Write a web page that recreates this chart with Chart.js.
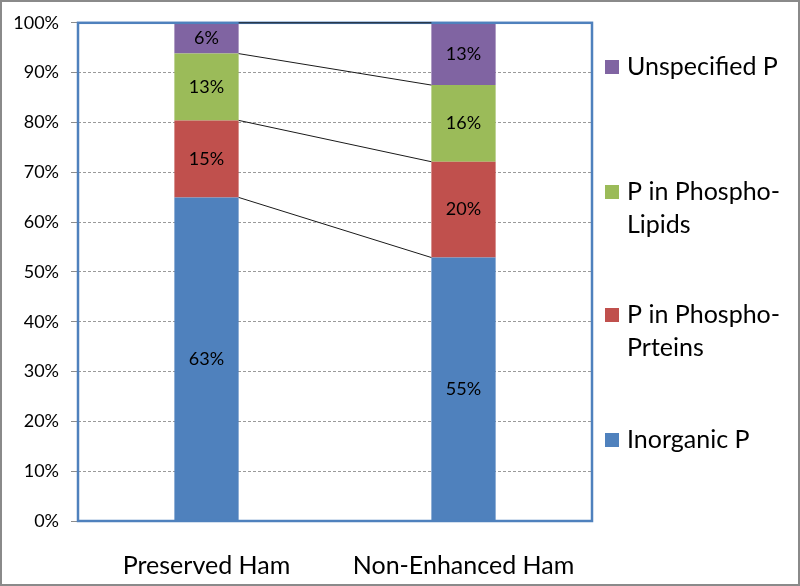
<!DOCTYPE html>
<html>
<head>
<meta charset="utf-8">
<script src="https://cdn.jsdelivr.net/npm/chart.js@4/dist/chart.umd.min.js"></script>
<style>
  html, body { margin: 0; padding: 0; background: #fff; }
  #wrap { width: 800px; height: 586px; position: relative; }
</style>
</head>
<body>
<div id="wrap"><canvas id="c" width="800" height="586"></canvas></div>
<script>
// ---- Data ----
const categories = ["Preserved Ham", "Non-Enhanced Ham"];
const seriesNames = ["Inorganic P", "P in Phospho-Prteins", "P in Phospho-Lipids", "Unspecified P"];
const legendLines = [["Inorganic P"], ["P in Phospho-", "Prteins"], ["P in Phospho-", "Lipids"], ["Unspecified P"]];
const inorganicP = [63, 55];
const phosphoProteins = [15, 20];
const phosphoLipids = [13, 16];
const unspecifiedP = [6, 13];
const yTickValues = [0, 10, 20, 30, 40, 50, 60, 70, 80, 90, 100];

const colors = ["#4F81BD", "#C0504D", "#9BBB59", "#8064A2"];
const rawSeries = [inorganicP, phosphoProteins, phosphoLipids, unspecifiedP];
const totals = categories.map((_, i) => rawSeries.reduce((s, arr) => s + arr[i], 0));

const FONT = "Lato, 'Liberation Sans', sans-serif";

const datasets = rawSeries.map((arr, k) => ({
  label: seriesNames[k],
  data: arr.map((v, i) => v / totals[i] * 100),
  raw: arr,
  backgroundColor: colors[k],
  borderWidth: 0,
  barPercentage: 1,
  categoryPercentage: 0.25
}));

const plotDecor = {
  id: 'plotDecor',
  afterDatasetsDraw(chart) {
    const ctx = chart.ctx;
    const a = chart.chartArea;
    // data labels
    ctx.save();
    ctx.font = "18px " + FONT;
    ctx.fillStyle = "#000";
    ctx.textAlign = "center";
    ctx.textBaseline = "middle";
    chart.data.datasets.forEach((ds, k) => {
      const meta = chart.getDatasetMeta(k);
      meta.data.forEach((bar, i) => {
        const yc = (bar.y + bar.base) / 2;
        ctx.fillText(ds.raw[i] + "%", bar.x, yc);
      });
    });
    ctx.restore();
    // plot border
    ctx.save();
    ctx.strokeStyle = "#4F81BD";
    ctx.lineWidth = 2.5;
    ctx.strokeRect(a.left, a.top, a.right - a.left, a.bottom - a.top);
    ctx.restore();
    // series lines
    ctx.save();
    ctx.strokeStyle = "#1a1a1a";
    ctx.lineWidth = 1;
    chart.data.datasets.forEach((ds, k) => {
      const meta = chart.getDatasetMeta(k);
      const b0 = meta.data[0], b1 = meta.data[1];
      ctx.beginPath();
      ctx.moveTo(b0.x + b0.width / 2, b0.y);
      ctx.lineTo(b1.x - b1.width / 2, b1.y);
      ctx.stroke();
    });
    ctx.restore();
  },
  afterDraw(chart) {
    const ctx = chart.ctx;
    // legend (top to bottom: reverse order)
    const items = [3, 2, 1, 0];
    const firstY = [67, 192, 315, 440];
    const lineGap = 33;
    ctx.save();
    ctx.font = "25px " + FONT;
    ctx.textBaseline = "middle";
    ctx.textAlign = "left";
    items.forEach((k, j) => {
      const y = firstY[j];
      ctx.fillStyle = colors[k];
      ctx.fillRect(605, y - 7, 14, 14);
      ctx.fillStyle = "#000";
      legendLines[k].forEach((t, li) => ctx.fillText(t, 627, y + li * lineGap));
    });
    ctx.restore();
    // outer border
    ctx.save();
    ctx.strokeStyle = "#8a8a8a";
    ctx.lineWidth = 2;
    ctx.strokeRect(1, 1, chart.width - 2, chart.height - 2);
    ctx.restore();
  }
};

new Chart(document.getElementById('c'), {
  type: 'bar',
  data: { labels: categories, datasets },
  options: {
    responsive: false,
    animation: false,
    devicePixelRatio: 1,
    layout: { padding: { left: 0, right: 208, top: 22, bottom: 0 } },
    plugins: { legend: { display: false }, tooltip: { enabled: false } },
    scales: {
      x: {
        stacked: true,
        grid: { display: false },
        border: { display: false },
        ticks: { font: { family: FONT, size: 25 }, color: "#000", padding: 22 },
        afterFit(s) { s.height = 586 - 521; }
      },
      y: {
        stacked: true,
        min: 0, max: 100,
        afterBuildTicks(s) { s.ticks = yTickValues.map(v => ({ value: v })); },
        ticks: { font: { family: FONT, size: 18 }, color: "#000", padding: 12, callback: v => v + "%" },
        grid: { color: "#9a9a9a", tickBorderDash: [], tickColor: "#8c8c8c", tickLength: 7, lineWidth: 1 },
        border: { display: false, dash: [3, 2] },
        afterFit(s) { s.width = 78; }
      }
    }
  },
  plugins: [plotDecor]
});
</script>
</body>
</html>
